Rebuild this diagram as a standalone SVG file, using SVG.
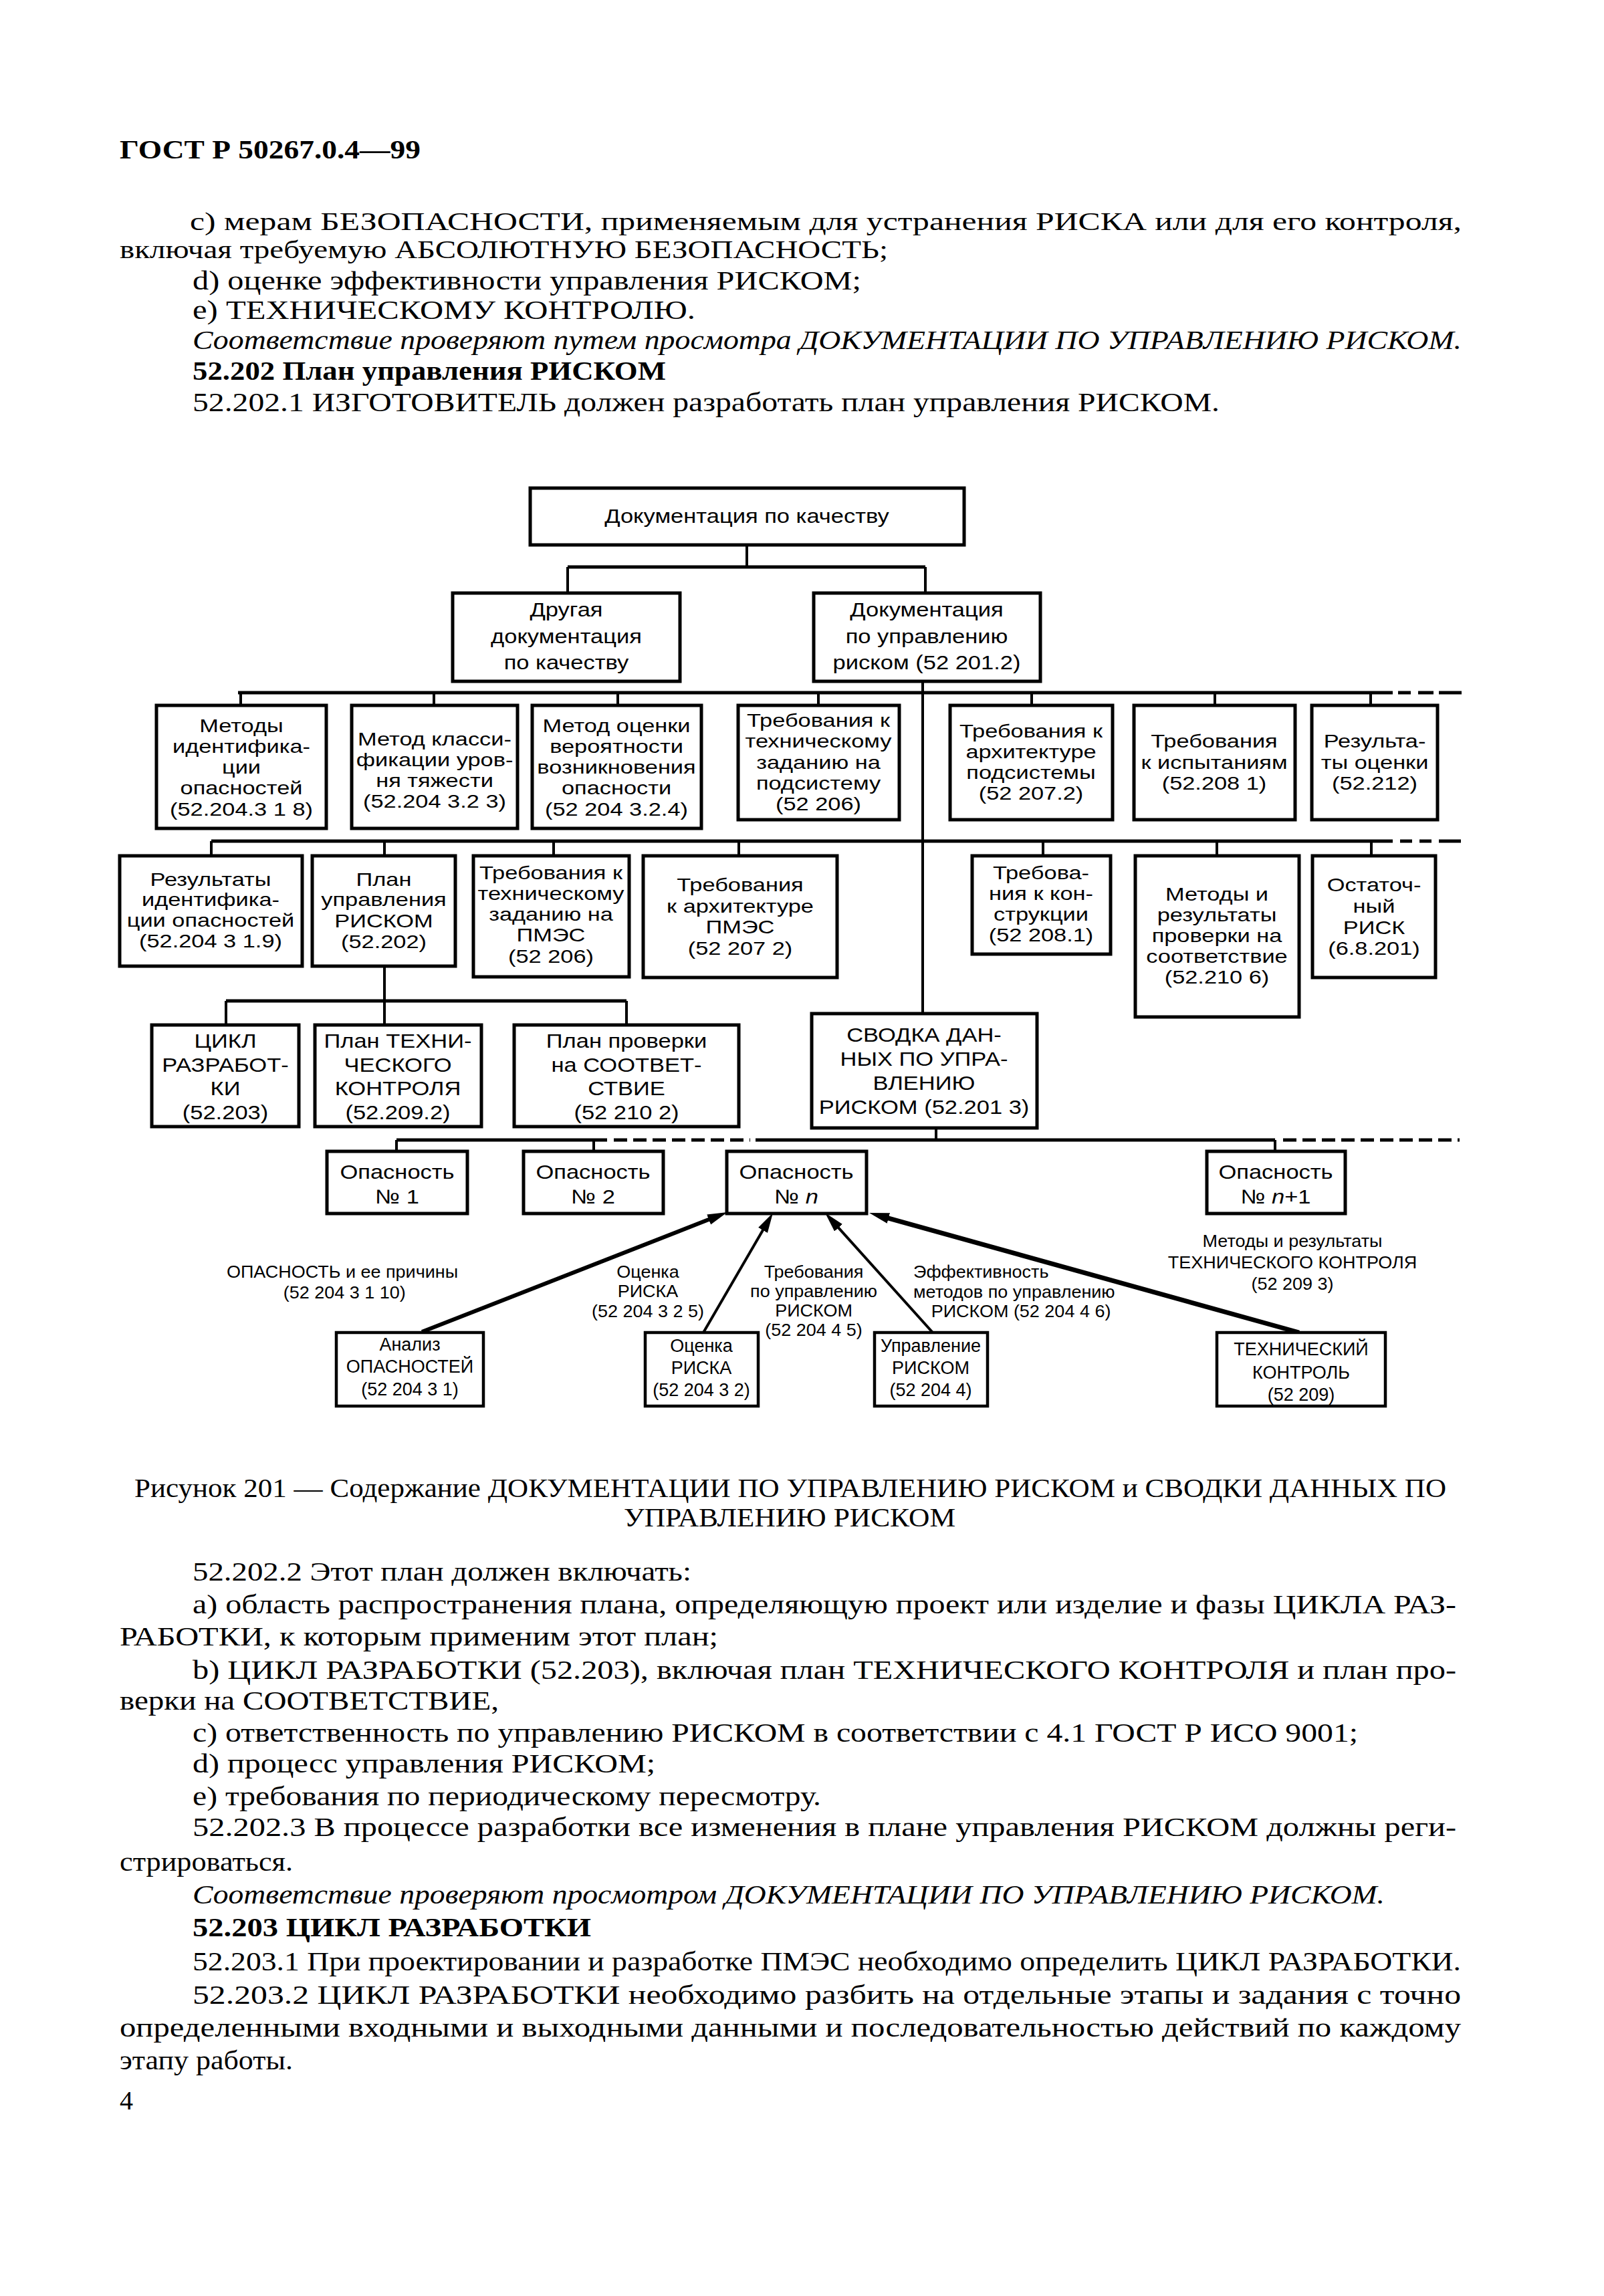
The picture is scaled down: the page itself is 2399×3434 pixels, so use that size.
<svg xmlns="http://www.w3.org/2000/svg" width="2399" height="3434" viewBox="0 0 2399 3434">
<defs>
<style>
.bg{fill:#fff}
.box{fill:#fff;stroke:#000;stroke-width:5}
.sbox{fill:#fff;stroke:#000;stroke-width:4.5}
.t{font-family:"Liberation Sans",Arial,sans-serif;font-size:30px;fill:#000;text-anchor:middle}
.tr{font-family:"Liberation Sans",Arial,sans-serif;font-size:27.5px;fill:#000;text-anchor:middle}
.ts{font-family:"Liberation Sans",Arial,sans-serif;font-size:27px;fill:#000;text-anchor:middle}
.tl{font-family:"Liberation Sans",Arial,sans-serif;font-size:25px;fill:#000;text-anchor:middle}
.tla{font-family:"Liberation Sans",Arial,sans-serif;font-size:25px;fill:#000}
.b{font-family:"Liberation Serif","Times New Roman",serif;font-size:40px;fill:#000}
.b1{font-size:37.5px}
.bi{font-style:italic}
.bb{font-weight:bold}
.ln{stroke:#000;stroke-width:4;fill:none}
.bar{stroke:#000;stroke-width:5;fill:none}
.dash{stroke:#000;stroke-width:5;fill:none;stroke-dasharray:20 9}
.ar{stroke:#000;fill:none}
</style>
<marker id="ah" markerUnits="userSpaceOnUse" markerWidth="32" markerHeight="18" refX="10" refY="8" orient="auto">
<path d="M0,0 L30,8 L0,16 z" fill="#000"/>
</marker>
</defs>
<rect class="bg" x="0" y="0" width="2399" height="3434"/>

<g id="text-top">
<text class="b bb" x="179" y="237" font-size="42" textLength="450" lengthAdjust="spacingAndGlyphs">ГОСТ Р 50267.0.4—99</text>
<text class="b b1" x="284" y="344" textLength="1902" lengthAdjust="spacingAndGlyphs">c)  мерам БЕЗОПАСНОСТИ, применяемым для устранения РИСКА или для его контроля,</text>
<text class="b b1" x="179" y="386" textLength="1149" lengthAdjust="spacingAndGlyphs">включая требуемую АБСОЛЮТНУЮ БЕЗОПАСНОСТЬ;</text>
<text class="b" x="288" y="433" textLength="1000" lengthAdjust="spacingAndGlyphs">d)  оценке эффективности управления РИСКОМ;</text>
<text class="b" x="288" y="477" textLength="752" lengthAdjust="spacingAndGlyphs">e)  ТЕХНИЧЕСКОМУ КОНТРОЛЮ.</text>
<text class="b bi" x="288" y="522" textLength="1898" lengthAdjust="spacingAndGlyphs">Соответствие проверяют путем просмотра ДОКУМЕНТАЦИИ ПО УПРАВЛЕНИЮ РИСКОМ.</text>
<text class="b bb" x="288" y="568" textLength="708" lengthAdjust="spacingAndGlyphs">52.202  План управления РИСКОМ</text>
<text class="b" x="288" y="615" textLength="1536" lengthAdjust="spacingAndGlyphs">52.202.1  ИЗГОТОВИТЕЛЬ должен разработать план управления РИСКОМ.</text>
</g>

<g id="connectors">
<path class="ln" d="M1117,815 V848"/>
<path class="bar" d="M849,848 H1384"/>
<path class="ln" d="M849,848 V887 M1384,848 V887"/>
<path class="ln" d="M1380,1019 V1516"/>
<path class="bar" d="M356,1036 H2083"/>
<path class="bar" d="M2091,1036 H2110 M2121,1036 H2144 M2152,1036 H2186"/>
<path class="ln" d="M360,1036 V1055 M649,1036 V1055 M924,1036 V1055 M1224,1036 V1055 M1543,1036 V1055 M1817,1036 V1055 M2050,1036 V1055"/>
<path class="bar" d="M316,1258 H2083"/>
<path class="bar" d="M2094,1258 H2112 M2123,1258 H2141 M2152,1258 H2185"/>
<path class="ln" d="M316,1258 V1280 M575,1258 V1280 M828,1258 V1280 M1105,1258 V1280 M1560,1258 V1280 M1820,1258 V1280 M2051,1258 V1280"/>
<path class="ln" d="M575,1445 V1533"/>
<path class="bar" d="M338,1497 H937"/>
<path class="ln" d="M338,1497 V1533 M937,1497 V1533"/>
<path class="ln" d="M1400,1687 V1705"/>
<path class="bar" d="M593,1705 H908"/>
<path class="dash" d="M918,1705 H1122"/>
<path class="bar" d="M1130,1705 H1907"/>
<path class="dash" d="M1919,1705 H2183"/>
<path class="ln" d="M593,1705 V1722 M888,1705 V1722 M1907,1705 V1722"/>
<line class="ar" x1="631" y1="1992" x2="1069.4" y2="1820.3" stroke-width="6" marker-end="url(#ah)"/>
<line class="ar" x1="1052" y1="1993" x2="1146" y2="1831.3" stroke-width="4" marker-end="url(#ah)"/>
<line class="ar" x1="1395" y1="1993" x2="1247.4" y2="1828.9" stroke-width="4" marker-end="url(#ah)"/>
<line class="ar" x1="1943" y1="1993" x2="1319.3" y2="1819.4" stroke-width="7" marker-end="url(#ah)"/>
</g>

<g id="n-doc-quality"><rect class="box" x="793" y="730" width="649" height="85"/>
<g transform="translate(1117 0) scale(1.15 1)"><text class="t" x="0" y="782">Документация по качеству</text></g></g>

<g id="n-other-doc"><rect class="box" x="677" y="887" width="340" height="132"/>
<g transform="translate(847 0) scale(1.15 1)"><text class="t" x="0" y="922">Другая</text><text class="t" x="0" y="962">документация</text><text class="t" x="0" y="1001">по качеству</text></g></g>

<g id="n-risk-doc"><rect class="box" x="1217" y="887" width="339" height="132"/>
<g transform="translate(1386 0) scale(1.15 1)"><text class="t" x="0" y="922">Документация</text><text class="t" x="0" y="962">по управлению</text><text class="t" x="0" y="1001">риском (52 201.2)</text></g></g>

<g id="n-r1-1"><rect class="box" x="234" y="1055" width="254" height="184"/>
<g transform="translate(361 0) scale(1.25 1)"><text class="tr" x="0" y="1095">Методы</text><text class="tr" x="0" y="1126">идентифика-</text><text class="tr" x="0" y="1157">ции</text><text class="tr" x="0" y="1188">опасностей</text><text class="tr" x="0" y="1220">(52.204.3 1 8)</text></g></g>

<g id="n-r1-2"><rect class="box" x="526" y="1055" width="248" height="184"/>
<g transform="translate(650 0) scale(1.25 1)"><text class="tr" x="0" y="1115">Метод класси-</text><text class="tr" x="0" y="1146">фикации уров-</text><text class="tr" x="0" y="1177">ня тяжести</text><text class="tr" x="0" y="1208">(52.204 3.2 3)</text></g></g>

<g id="n-r1-3"><rect class="box" x="796" y="1055" width="253" height="184"/>
<g transform="translate(922 0) scale(1.25 1)"><text class="tr" x="0" y="1095">Метод оценки</text><text class="tr" x="0" y="1126">вероятности</text><text class="tr" x="0" y="1157">возникновения</text><text class="tr" x="0" y="1188">опасности</text><text class="tr" x="0" y="1220">(52 204 3.2.4)</text></g></g>

<g id="n-r1-4"><rect class="box" x="1104" y="1055" width="241" height="171"/>
<g transform="translate(1224 0) scale(1.25 1)"><text class="tr" x="0" y="1087">Требования к</text><text class="tr" x="0" y="1118">техническому</text><text class="tr" x="0" y="1150">заданию на</text><text class="tr" x="0" y="1181">подсистему</text><text class="tr" x="0" y="1212">(52 206)</text></g></g>

<g id="n-r1-5"><rect class="box" x="1421" y="1055" width="243" height="171"/>
<g transform="translate(1542 0) scale(1.25 1)"><text class="tr" x="0" y="1103">Требования к</text><text class="tr" x="0" y="1134">архитектуре</text><text class="tr" x="0" y="1165">подсистемы</text><text class="tr" x="0" y="1196">(52 207.2)</text></g></g>

<g id="n-r1-6"><rect class="box" x="1696" y="1055" width="241" height="171"/>
<g transform="translate(1816 0) scale(1.25 1)"><text class="tr" x="0" y="1118">Требования</text><text class="tr" x="0" y="1150">к испытаниям</text><text class="tr" x="0" y="1181">(52.208 1)</text></g></g>

<g id="n-r1-7"><rect class="box" x="1962" y="1055" width="188" height="171"/>
<g transform="translate(2056 0) scale(1.25 1)"><text class="tr" x="0" y="1118">Результа-</text><text class="tr" x="0" y="1150">ты оценки</text><text class="tr" x="0" y="1181">(52.212)</text></g></g>

<g id="n-r2-1"><rect class="box" x="179" y="1280" width="273" height="165"/>
<g transform="translate(315 0) scale(1.25 1)"><text class="tr" x="0" y="1325">Результаты</text><text class="tr" x="0" y="1355">идентифика-</text><text class="tr" x="0" y="1386">ции опасностей</text><text class="tr" x="0" y="1417">(52.204 3 1.9)</text></g></g>

<g id="n-r2-2"><rect class="box" x="467" y="1280" width="214" height="165"/>
<g transform="translate(574 0) scale(1.25 1)"><text class="tr" x="0" y="1325">План</text><text class="tr" x="0" y="1355">управления</text><text class="tr" x="0" y="1387">РИСКОМ</text><text class="tr" x="0" y="1418">(52.202)</text></g></g>

<g id="n-r2-3"><rect class="box" x="708" y="1280" width="233" height="181"/>
<g transform="translate(824 0) scale(1.25 1)"><text class="tr" x="0" y="1315">Требования к</text><text class="tr" x="0" y="1346">техническому</text><text class="tr" x="0" y="1377">заданию на</text><text class="tr" x="0" y="1408">ПМЭС</text><text class="tr" x="0" y="1440">(52 206)</text></g></g>

<g id="n-r2-4"><rect class="box" x="962" y="1280" width="290" height="182"/>
<g transform="translate(1107 0) scale(1.25 1)"><text class="tr" x="0" y="1333">Требования</text><text class="tr" x="0" y="1365">к архитектуре</text><text class="tr" x="0" y="1396">ПМЭС</text><text class="tr" x="0" y="1428">(52 207 2)</text></g></g>

<g id="n-r2-5"><rect class="box" x="1454" y="1280" width="207" height="147"/>
<g transform="translate(1557 0) scale(1.25 1)"><text class="tr" x="0" y="1315">Требова-</text><text class="tr" x="0" y="1346">ния к кон-</text><text class="tr" x="0" y="1377">струкции</text><text class="tr" x="0" y="1408">(52 208.1)</text></g></g>

<g id="n-r2-6"><rect class="box" x="1698" y="1280" width="245" height="241"/>
<g transform="translate(1820 0) scale(1.25 1)"><text class="tr" x="0" y="1347">Методы и</text><text class="tr" x="0" y="1378">результаты</text><text class="tr" x="0" y="1409">проверки на</text><text class="tr" x="0" y="1440">соответствие</text><text class="tr" x="0" y="1471">(52.210 6)</text></g></g>

<g id="n-r2-7"><rect class="box" x="1963" y="1280" width="184" height="182"/>
<g transform="translate(2055 0) scale(1.25 1)"><text class="tr" x="0" y="1333">Остаточ-</text><text class="tr" x="0" y="1365">ный</text><text class="tr" x="0" y="1397">РИСК</text><text class="tr" x="0" y="1428">(6.8.201)</text></g></g>

<g id="n-r3-1"><rect class="box" x="227" y="1533" width="220" height="152"/>
<g transform="translate(337 0) scale(1.15 1)"><text class="t" x="0" y="1567">ЦИКЛ</text><text class="t" x="0" y="1603">РАЗРАБОТ-</text><text class="t" x="0" y="1638">КИ</text><text class="t" x="0" y="1674">(52.203)</text></g></g>

<g id="n-r3-2"><rect class="box" x="471" y="1533" width="249" height="152"/>
<g transform="translate(595 0) scale(1.15 1)"><text class="t" x="0" y="1567">План ТЕХНИ-</text><text class="t" x="0" y="1603">ЧЕСКОГО</text><text class="t" x="0" y="1638">КОНТРОЛЯ</text><text class="t" x="0" y="1674">(52.209.2)</text></g></g>

<g id="n-r3-3"><rect class="box" x="769" y="1533" width="336" height="152"/>
<g transform="translate(937 0) scale(1.15 1)"><text class="t" x="0" y="1567">План проверки</text><text class="t" x="0" y="1603">на СООТВЕТ-</text><text class="t" x="0" y="1638">СТВИЕ</text><text class="t" x="0" y="1674">(52 210 2)</text></g></g>

<g id="n-summary"><rect class="box" x="1214" y="1516" width="337" height="171"/>
<g transform="translate(1382 0) scale(1.15 1)"><text class="t" x="0" y="1558">СВОДКА ДАН-</text><text class="t" x="0" y="1594">НЫХ ПО УПРА-</text><text class="t" x="0" y="1630">ВЛЕНИЮ</text><text class="t" x="0" y="1666">РИСКОМ (52.201 3)</text></g></g>

<g id="n-hazard-1"><rect class="box" x="489" y="1722" width="210" height="93"/>
<g transform="translate(594 0) scale(1.15 1)"><text class="t" x="0" y="1763">Опасность</text><text class="t" x="0" y="1800">№ 1</text></g></g>

<g id="n-hazard-2"><rect class="box" x="783" y="1722" width="209" height="93"/>
<g transform="translate(887 0) scale(1.15 1)"><text class="t" x="0" y="1763">Опасность</text><text class="t" x="0" y="1800">№ 2</text></g></g>

<g id="n-hazard-n"><rect class="box" x="1087" y="1722" width="209" height="93"/>
<g transform="translate(1191 0) scale(1.15 1)"><text class="t" x="0" y="1763">Опасность</text><text class="t" x="0" y="1800">№ <tspan font-style="italic">n</tspan></text></g></g>

<g id="n-hazard-n1"><rect class="box" x="1805" y="1722" width="207" height="93"/>
<g transform="translate(1908 0) scale(1.15 1)"><text class="t" x="0" y="1763">Опасность</text><text class="t" x="0" y="1800">№ <tspan font-style="italic">n</tspan>+1</text></g></g>

<g id="n-analysis"><rect class="sbox" x="503" y="1993" width="220" height="110"/>
<text class="ts" x="613" y="2020">Анализ</text><text class="ts" x="613" y="2053">ОПАСНОСТЕЙ</text><text class="ts" x="613" y="2087">(52 204 3 1)</text></g>

<g id="n-risk-est"><rect class="sbox" x="965" y="1993" width="169" height="110"/>
<text class="ts" x="1049" y="2022">Оценка</text><text class="ts" x="1049" y="2055">РИСКА</text><text class="ts" x="1049" y="2088">(52 204 3 2)</text></g>

<g id="n-risk-ctrl"><rect class="sbox" x="1308" y="1993" width="169" height="110"/>
<text class="ts" x="1392" y="2022">Управление</text><text class="ts" x="1392" y="2055">РИСКОМ</text><text class="ts" x="1392" y="2088">(52 204 4)</text></g>

<g id="n-tech-ctrl"><rect class="sbox" x="1820" y="1993" width="252" height="110"/>
<text class="ts" x="1946" y="2027">ТЕХНИЧЕСКИЙ</text><text class="ts" x="1946" y="2062">КОНТРОЛЬ</text><text class="ts" x="1946" y="2095">(52 209)</text></g>

<g id="edge-labels">
<g transform="translate(512 0) scale(1.08 1)"><text class="tl" x="0" y="1911">ОПАСНОСТЬ и ее причины</text><text class="tl" x="3" y="1942">(52 204 3 1 10)</text></g>
<g transform="translate(969 0) scale(1.08 1)"><text class="tl" x="0" y="1911">Оценка</text><text class="tl" x="0" y="1940">РИСКА</text><text class="tl" x="0" y="1970">(52 204 3 2 5)</text></g>
<g transform="translate(1217 0) scale(1.08 1)"><text class="tl" x="0" y="1911">Требования</text><text class="tl" x="0" y="1940">по управлению</text><text class="tl" x="0" y="1969">РИСКОМ</text><text class="tl" x="0" y="1998">(52 204 4 5)</text></g>
<g transform="translate(1366 0) scale(1.08 1)"><text class="tla" x="0" y="1911">Эффективность</text><text class="tla" x="0" y="1941">методов по управлению</text></g>
<g transform="translate(1527 0) scale(1.08 1)"><text class="tl" x="0" y="1970">РИСКОМ (52 204 4 6)</text></g>
<g transform="translate(1933 0) scale(1.08 1)"><text class="tl" x="0" y="1865">Методы и результаты</text><text class="tl" x="0" y="1897">ТЕХНИЧЕСКОГО КОНТРОЛЯ</text><text class="tl" x="0" y="1929">(52 209 3)</text></g>
</g>

<g id="text-bottom">
<text class="b" x="201" y="2239" textLength="1962" lengthAdjust="spacingAndGlyphs">Рисунок 201 — Содержание ДОКУМЕНТАЦИИ ПО УПРАВЛЕНИЮ РИСКОМ и СВОДКИ ДАННЫХ ПО</text>
<text class="b" x="933" y="2283" textLength="496" lengthAdjust="spacingAndGlyphs">УПРАВЛЕНИЮ РИСКОМ</text>
<text class="b" x="288" y="2364" textLength="746" lengthAdjust="spacingAndGlyphs">52.202.2  Этот план должен включать:</text>
<text class="b" x="288" y="2413" textLength="1890" lengthAdjust="spacingAndGlyphs">a)  область распространения плана, определяющую проект или изделие и фазы ЦИКЛА РАЗ-</text>
<text class="b" x="179" y="2461" textLength="895" lengthAdjust="spacingAndGlyphs">РАБОТКИ, к которым применим этот план;</text>
<text class="b" x="288" y="2511" textLength="1890" lengthAdjust="spacingAndGlyphs">b)  ЦИКЛ РАЗРАБОТКИ (52.203), включая план ТЕХНИЧЕСКОГО КОНТРОЛЯ и план про-</text>
<text class="b" x="179" y="2557" textLength="567" lengthAdjust="spacingAndGlyphs">верки на СООТВЕТСТВИЕ,</text>
<text class="b" x="288" y="2605" textLength="1743" lengthAdjust="spacingAndGlyphs">c)  ответственность по управлению РИСКОМ в соответствии с 4.1 ГОСТ Р ИСО 9001;</text>
<text class="b" x="288" y="2651" textLength="692" lengthAdjust="spacingAndGlyphs">d)  процесс управления РИСКОМ;</text>
<text class="b" x="288" y="2700" textLength="940" lengthAdjust="spacingAndGlyphs">e)  требования по периодическому пересмотру.</text>
<text class="b" x="288" y="2746" textLength="1890" lengthAdjust="spacingAndGlyphs">52.202.3  В процессе разработки все изменения в плане управления РИСКОМ должны реги-</text>
<text class="b" x="179" y="2798" textLength="259" lengthAdjust="spacingAndGlyphs">стрироваться.</text>
<text class="b bi" x="288" y="2847" textLength="1783" lengthAdjust="spacingAndGlyphs">Соответствие проверяют просмотром ДОКУМЕНТАЦИИ ПО УПРАВЛЕНИЮ РИСКОМ.</text>
<text class="b bb" x="288" y="2896" textLength="596" lengthAdjust="spacingAndGlyphs">52.203  ЦИКЛ РАЗРАБОТКИ</text>
<text class="b" x="288" y="2947" textLength="1897" lengthAdjust="spacingAndGlyphs">52.203.1  При проектировании и разработке ПМЭС необходимо определить ЦИКЛ РАЗРАБОТКИ.</text>
<text class="b" x="288" y="2997" textLength="1897" lengthAdjust="spacingAndGlyphs">52.203.2  ЦИКЛ РАЗРАБОТКИ необходимо разбить на отдельные этапы и задания с точно</text>
<text class="b" x="179" y="3046" textLength="2006" lengthAdjust="spacingAndGlyphs">определенными входными и выходными данными и последовательностью действий по каждому</text>
<text class="b" x="179" y="3095" textLength="259" lengthAdjust="spacingAndGlyphs">этапу работы.</text>
<text class="b" x="179" y="3155">4</text>
</g>
</svg>
